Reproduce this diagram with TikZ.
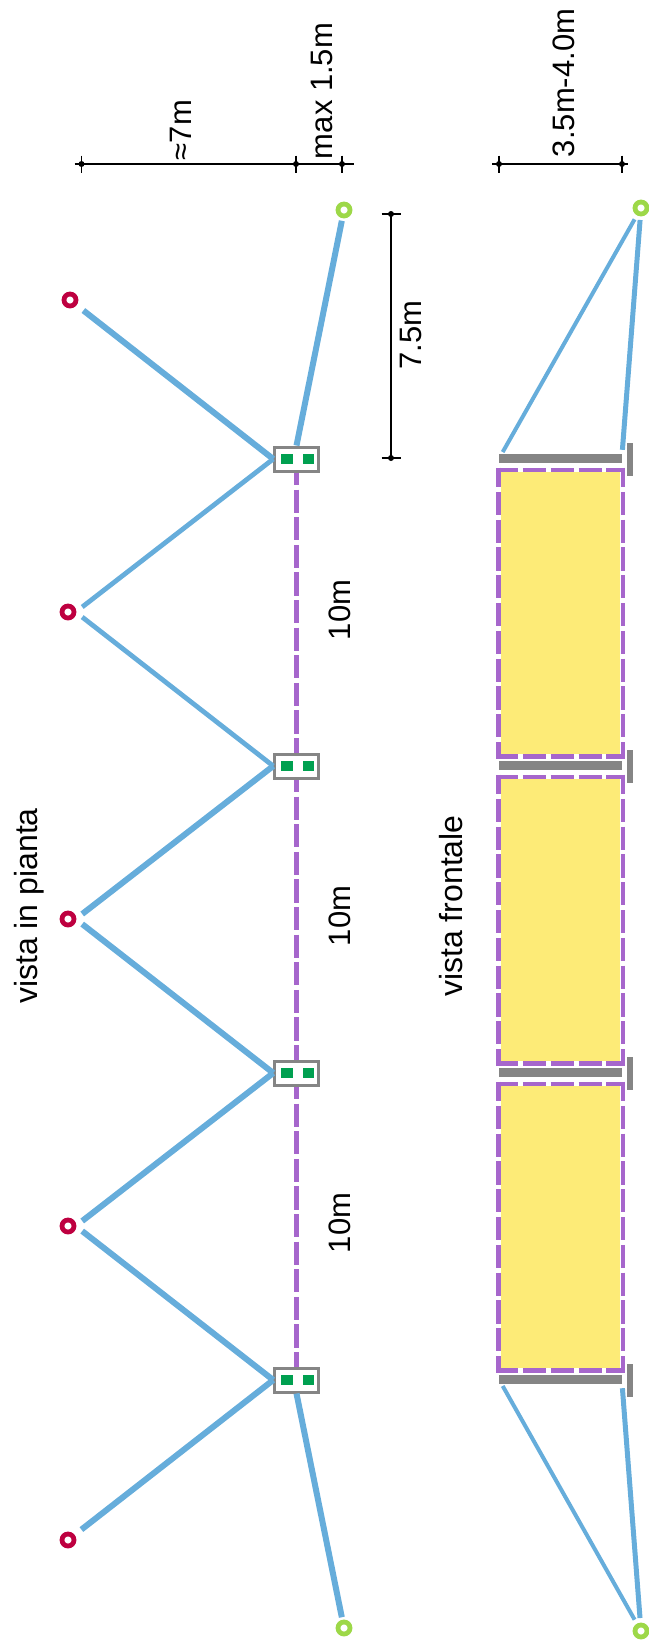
\documentclass[tikz,border=0pt]{standalone}
\usepackage{fontspec}
\setmainfont{Liberation Sans}
\usetikzlibrary{shapes,shapes.geometric,calc,positioning}

\definecolor{wireblue}{HTML}{66ADDB}
\definecolor{linepurple}{HTML}{A666CC}
\definecolor{panelyellow}{HTML}{FDEB77}
\definecolor{postgray}{HTML}{858585}
\definecolor{anchorred}{HTML}{BE0040}
\definecolor{anchorgreen}{HTML}{9DD848}
\definecolor{squaregreen}{HTML}{00A050}

\tikzset{
  postbox/.style={rectangle,draw=postgray,line width=3pt,fill=white,minimum width=43.5pt,minimum height=24pt,inner sep=0pt},
  squareleft/.style={rectangle,fill=squaregreen,minimum width=12pt,minimum height=10pt,inner sep=0pt},
  squareright/.style={squareleft,minimum width=11pt},
  redpt/.style={circle,draw=anchorred,line width=4.8pt,minimum size=12pt,inner sep=0pt},
  greenpt/.style={redpt,draw=anchorgreen},
  wire/.style={draw=wireblue,line width=6pt},
  thinwire/.style={draw=wireblue,line width=4.8pt},
  netline/.style={draw=linepurple,line width=5.5pt,dash pattern=on 23.2pt off 4.4pt,dash phase=10.5pt},
  panel/.style={rectangle,fill=panelyellow,minimum width=124pt,minimum height=286pt,inner sep=0pt,
    postaction={draw=white,line width=4.6pt}},
  hside/.style={draw=linepurple,line width=4.6pt,dash pattern=on 23.2pt off 4.6pt,dash phase=1pt,shorten <=-2.3pt,shorten >=-2.3pt},
  vside/.style={hside,dash phase=3.5pt},
  bar/.style={rectangle,fill=postgray,minimum width=123pt,minimum height=9pt,inner sep=0pt},
  stub/.style={rectangle,fill=postgray,minimum width=6.5pt,minimum height=33pt,inner sep=0pt},
  dimline/.style={draw=black,line width=1.2pt},
  dimdot/.style={circle,fill=black,minimum size=6pt,inner sep=0pt},
  dimtext/.style={rotate=90,anchor=base,inner sep=0pt,font=\fontsize{31}{34}\selectfont},
  viewtext/.style={dimtext,font=\fontsize{32}{35}\selectfont}
}

\begin{document}
\begin{tikzpicture}[%
x=1pt,
y=-1pt,
node distance=307pt,
on grid
]
\useasboundingbox (0,0) rectangle (648,1641);

% plan view
\node[postbox] (post1) at (296.5,459) {};
\node[postbox] (post2) [below=of post1] {};
\node[postbox] (post3) [below=of post2] {};
\node[postbox] (post4) [below=of post3] {};
\node[squareleft] (sq1l) [left=9.5pt of post1] {};
\node[squareright] (sq1r) [right=12pt of post1] {};
\node[squareleft] (sq2l) [left=9.5pt of post2] {};
\node[squareright] (sq2r) [right=12pt of post2] {};
\node[squareleft] (sq3l) [left=9.5pt of post3] {};
\node[squareright] (sq3r) [right=12pt of post3] {};
\node[squareleft] (sq4l) [left=9.5pt of post4] {};
\node[squareright] (sq4r) [right=12pt of post4] {};

\node[redpt] (red1) at (70,300) {};
\node[redpt] (red2) at (68,612) {};
\node[redpt] (red3) at (68,919) {};
\node[redpt] (red4) at (68,1226) {};
\node[redpt] (red5) at (68,1540) {};
\node[greenpt] (green1) at (344,210) {};
\node[greenpt] (green2) at (344,1628) {};

% stays to the anchors
\path[wire,shorten >=17pt] (post1.west) edge (red1.center);
\path[thinwire,shorten >=18pt] (post1.west) edge ([yshift=-6pt]red2.center);
\path[thinwire,shorten >=18pt] (post2.west) edge ([yshift=6pt]red2.center);
\path[wire,shorten >=18pt] (post2.west) edge ([yshift=-6pt]red3.center);
\path[wire,shorten >=18pt] (post3.west) edge ([yshift=6pt]red3.center);
\path[wire,shorten >=18pt] (post3.west) edge ([yshift=-6pt]red4.center);
\path[wire,shorten >=18pt] (post4.west) edge ([yshift=6pt]red4.center);
\path[wire,shorten >=17pt] (post4.west) edge (red5.center);
\path[wire,shorten >=11pt] (post1.north) edge (green1.center);
\path[wire,shorten >=11pt] (post4.south) edge (green2.center);

% dashed net between posts
\path[netline] (post1.south) edge (post2.north);
\path[netline] (post2.south) edge (post3.north);
\path[netline] (post3.south) edge (post4.north);

% front view
\node[bar] (bar1) at (560.4,458.5) {};
\node[bar] (bar2) [below=of bar1] {};
\node[bar] (bar3) [below=of bar2] {};
\node[bar] (bar4) [below=of bar3] {};
\node[stub] (stub1) at (630.2,459) {};
\node[stub] (stub2) [below=of stub1] {};
\node[stub] (stub3) [below=of stub2] {};
\node[stub] (stub4) [below=of stub3] {};
\node[panel] (panel1) at (560.6,613) {};
\node[panel] (panel2) [below=of panel1] {};
\node[panel] (panel3) [below=of panel2] {};
\node[greenpt] (green3) at (641,208) {};
\node[greenpt] (green4) at (641,1631) {};

% panel outlines, one dash run per side
\path[hside] (panel1.north west) edge (panel1.north east);
\path[hside] (panel1.south west) edge (panel1.south east);
\path[vside] (panel1.north west) edge (panel1.south west);
\path[vside] (panel1.north east) edge (panel1.south east);
\path[hside] (panel2.north west) edge (panel2.north east);
\path[hside] (panel2.south west) edge (panel2.south east);
\path[vside] (panel2.north west) edge (panel2.south west);
\path[vside] (panel2.north east) edge (panel2.south east);
\path[hside] (panel3.north west) edge (panel3.north east);
\path[hside] (panel3.south west) edge (panel3.south east);
\path[vside] (panel3.north west) edge (panel3.south west);
\path[vside] (panel3.north east) edge (panel3.south east);

\path[thinwire,line width=4pt,shorten <=2pt,shorten >=13pt] ([xshift=3pt]bar1.north west) edge (green3.center);
\path[wire,line width=5pt,shorten <=4pt,shorten >=12pt] (bar1.north east) edge (green3.center);
\path[thinwire,line width=4pt,shorten <=2pt,shorten >=13pt] ([xshift=3pt]bar4.south west) edge (green4.center);
\path[wire,line width=5pt,shorten <=4pt,shorten >=13pt] (bar4.south east) edge (green4.center);

% dimensions
\node[dimdot] (dimA) at (81.5,164) {};
\node[dimdot] (dimB) at (296,164) {};
\node[dimdot] (dimC) at (342,164) {};
\node[dimdot] (dimD) at (499,164) {};
\node[dimdot] (dimE) at (622,164) {};
\node[dimdot] (dimF) at (391,214) {};
\node[dimdot] (dimG) at (391,458) {};

\draw[dimline,shorten <=-7pt,shorten >=-12pt] (dimA.center) -- (dimC.center);
\draw[dimline,shorten <=-7pt,shorten >=-6pt] (dimD.center) -- (dimE.center);
\draw[dimline] (dimF.center) -- (dimG.center);
\draw[dimline] ([yshift=8.5pt]dimA.center) -- ([yshift=-8.5pt]dimA.center);
\draw[dimline] ([yshift=8.5pt]dimB.center) -- ([yshift=-8.5pt]dimB.center);
\draw[dimline] ([yshift=8.5pt]dimC.center) -- ([yshift=-8.5pt]dimC.center);
\draw[dimline] ([yshift=8.5pt]dimD.center) -- ([yshift=-8.5pt]dimD.center);
\draw[dimline] ([yshift=8.5pt]dimE.center) -- ([yshift=-8.5pt]dimE.center);
\draw[dimline] ([xshift=-9.5pt]dimF.center) -- ([xshift=9.5pt]dimF.center);
\draw[dimline] ([xshift=-9.5pt]dimG.center) -- ([xshift=9.5pt]dimG.center);

% labels
\node[viewtext] (lblplan) at (37,906) {vista in pianta};
\node[viewtext] (lblfront) at (462,906) {vista frontale};
\node[dimtext] (lblA) at (350,610) {10m};
\node[dimtext] (lblB) at (350,916) {10m};
\node[dimtext] (lblC) at (350,1223) {10m};
\node[dimtext] (lblD) at (191,130) {≈7m};
\node[dimtext] (lblE) at (332,91) {max 1.5m};
\node[dimtext] (lblF) at (574,83) {3.5m-4.0m};
\node[dimtext] (lblG) at (421.5,335) {7.5m};
\end{tikzpicture}
\end{document}
